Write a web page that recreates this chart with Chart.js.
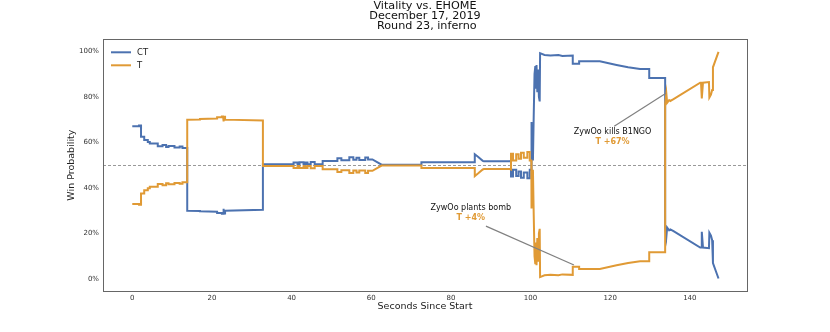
<!DOCTYPE html>
<html>
<head>
<meta charset="utf-8">
<script src="https://cdn.jsdelivr.net/npm/chart.js@4/dist/chart.umd.min.js"></script>
<style>
  html, body { margin: 0; padding: 0; background: #fff; }
</style>
</head>
<body>
<canvas id="winProb" width="830" height="332"></canvas>
<script>
// seconds since round start, and win probability (%) for each side
const secs = [
  0, 1.7, 1.7, 2.2, 2.2, 3.0, 3.0, 3.9, 3.9, 4.4, 4.4, 6.4, 6.4, 7.6, 7.6, 8.5, 8.5, 9.1, 9.1, 10.6,
  10.6, 11.9, 11.9, 12.6, 12.6, 13.8, 13.8, 17.0, 17.0, 21.3, 21.3, 22.5, 22.5, 22.8, 22.8, 23.0, 23.0, 23.3, 23.3, 32.8,
  32.8, 40.5, 40.5, 41.5, 41.5, 42.0, 42.0, 43.0, 43.0, 43.5, 43.5, 44.0, 44.0, 44.8, 44.8, 45.8, 45.8, 47.8, 47.8, 51.5,
  51.5, 52.5, 52.5, 54.5, 54.5, 55.5, 55.5, 56.3, 56.3, 57.0, 57.0, 58.5, 58.5, 59.2, 59.2, 60.3, 62.6, 72.6, 72.6, 86.0,
  86.0, 86.8, 88.0, 88.3, 94.8, 95.1, 95.1, 95.6, 95.6, 96.4, 96.4, 97.0, 97.0, 97.6, 97.6, 98.3, 98.3, 99.2, 99.2, 99.8,
  99.8, 100.2, 100.2, 100.3, 100.5, 100.6, 100.8, 101.0, 101.2, 101.4, 101.5, 101.7, 101.9, 102.1, 102.3, 102.4, 103.5, 105.0, 107.0, 108.0,
  110.6, 110.6, 112.2, 112.2, 117.4, 121.6, 124.5, 127.5, 129.8, 129.8, 133.8, 133.8, 134.1, 134.3, 134.8, 135.1, 135.9, 142.6, 142.8, 143.0,
  143.3, 144.8, 144.9, 145.3, 145.6, 145.8, 147.2
];
const ctProb = [
  67.1, 67.1, 67.4, 67.4, 62.5, 62.5, 61.0, 61.0, 60.2, 60.2, 59.5, 59.5, 58.3, 58.3, 58.8, 58.8, 58.0, 58.0, 58.4, 58.4,
  57.8, 57.8, 58.2, 58.2, 57.5, 57.5, 30.0, 29.9, 29.7, 29.5, 29.0, 29.0, 28.6, 28.6, 30.8, 30.8, 28.7, 28.7, 30.0, 30.4,
  50.4, 50.4, 51.2, 51.2, 50.4, 50.4, 51.3, 51.3, 50.5, 50.5, 51.2, 51.2, 50.4, 50.4, 51.4, 51.4, 50.4, 50.4, 51.8, 51.8,
  53.0, 53.0, 52.2, 52.2, 53.5, 53.5, 52.4, 52.4, 53.2, 53.2, 52.3, 52.3, 53.4, 53.4, 52.5, 52.5, 50.2, 50.2, 51.3, 51.3,
  54.8, 53.7, 51.9, 51.7, 51.7, 51.9, 45.0, 45.0, 48.0, 48.0, 45.2, 45.2, 47.2, 47.2, 44.5, 44.5, 46.8, 46.8, 44.2, 44.2,
  48.0, 48.0, 69.0, 58.0, 66.0, 52.0, 72.0, 90.0, 93.5, 84.0, 94.0, 82.0, 92.0, 80.0, 78.0, 99.2, 98.4, 98.2, 98.4, 98.0,
  98.2, 94.6, 94.6, 95.6, 95.6, 94.0, 93.0, 92.2, 92.2, 88.3, 88.3, 22.9, 18.5, 22.6, 21.4, 21.8, 21.0, 13.8, 13.8, 20.7,
  13.8, 13.5, 20.3, 19.0, 17.0, 7.0, 0.2
];
const tProb = [
  32.9, 32.9, 32.6, 32.6, 37.5, 37.5, 39.0, 39.0, 39.8, 39.8, 40.5, 40.5, 41.7, 41.7, 41.2, 41.2, 42.0, 42.0, 41.6, 41.6,
  42.2, 42.2, 41.8, 41.8, 42.5, 42.5, 70.0, 70.1, 70.3, 70.5, 71.0, 71.0, 71.4, 71.4, 69.2, 69.2, 71.3, 71.3, 70.0, 69.6,
  49.6, 49.6, 48.8, 48.8, 49.6, 49.6, 48.7, 48.7, 49.5, 49.5, 48.8, 48.8, 49.6, 49.6, 48.6, 48.6, 49.6, 49.6, 48.2, 48.2,
  47.0, 47.0, 47.8, 47.8, 46.5, 46.5, 47.6, 47.6, 46.8, 46.8, 47.7, 47.7, 46.6, 46.6, 47.5, 47.5, 49.8, 49.8, 48.7, 48.7,
  45.2, 46.3, 48.1, 48.3, 48.3, 48.1, 55.0, 55.0, 52.0, 52.0, 54.8, 54.8, 52.8, 52.8, 55.5, 55.5, 53.2, 53.2, 55.8, 55.8,
  52.0, 52.0, 31.0, 42.0, 34.0, 48.0, 28.0, 10.0, 6.5, 16.0, 6.0, 18.0, 8.0, 20.0, 22.0, 0.8, 1.6, 1.8, 1.6, 2.0,
  1.8, 5.4, 5.4, 4.4, 4.4, 6.0, 7.0, 7.8, 7.8, 11.7, 11.7, 77.1, 81.5, 77.4, 78.6, 78.2, 79.0, 86.2, 86.2, 79.3,
  86.2, 86.5, 79.7, 81.0, 83.0, 93.0, 99.8
];

const xTicks = [0, 20, 40, 60, 80, 100, 120, 140];
const yTicks = [0, 20, 40, 60, 80, 100];
const evenLine = 50;

// annotations: label, change, label centre, line start, line end (all in data units)
const noteText = ['ZywOo plants bomb', 'ZywOo kills B1NGO'];
const noteDelta = ['T +4%', 'T +67%'];
const noteLabelAt = [[85.0, 31.1], [120.6, 64.6]];
const noteFrom = [[88.8, 23.2], [121.0, 67.1]];
const noteTo = [[110.9, 6.1], [134.0, 81.6]];

const CT_COLOR = '#4c72b0';
const T_COLOR = '#e09a35';
const FONT = '"DejaVu Sans", sans-serif';

const toPts = (ys) => secs.map((s, i) => ({ x: s, y: ys[i] }));

// dashed 50% line, frame, legend and the two call-outs
const extras = {
  id: 'extras',
  beforeDatasetsDraw(chart) {
    const { ctx, chartArea: a, scales: { y } } = chart;
    const py = Math.round(y.getPixelForValue(evenLine)) + 0.5;
    ctx.save();
    ctx.strokeStyle = '#999';
    ctx.lineWidth = 1;
    ctx.setLineDash([3, 2]);
    ctx.beginPath();
    ctx.moveTo(a.left, py);
    ctx.lineTo(a.right, py);
    ctx.stroke();
    ctx.restore();
  },
  afterDatasetsDraw(chart) {
    const { ctx, chartArea: a, scales: { x, y } } = chart;
    ctx.save();

    // call-outs
    for (let i = 0; i < noteText.length; i++) {
      ctx.strokeStyle = '#808080';
      ctx.lineWidth = 1.2;
      ctx.beginPath();
      ctx.moveTo(x.getPixelForValue(noteFrom[i][0]), y.getPixelForValue(noteFrom[i][1]));
      ctx.lineTo(x.getPixelForValue(noteTo[i][0]), y.getPixelForValue(noteTo[i][1]));
      ctx.stroke();

      const cx = x.getPixelForValue(noteLabelAt[i][0]);
      const cy = y.getPixelForValue(noteLabelAt[i][1]);
      ctx.textAlign = 'center';
      ctx.textBaseline = 'middle';
      ctx.font = '8px ' + FONT;
      ctx.fillStyle = '#111';
      ctx.fillText(noteText[i], cx, cy);
      ctx.font = 'bold 8px ' + FONT;
      ctx.fillStyle = T_COLOR;
      ctx.fillText(noteDelta[i], cx, cy + 10);
    }

    // legend, top left inside the axes
    chart.data.datasets.forEach((ds, i) => {
      const ly = a.top + 13 + i * 13;
      ctx.strokeStyle = ds.borderColor;
      ctx.lineWidth = 2;
      ctx.beginPath();
      ctx.moveTo(a.left + 8, ly);
      ctx.lineTo(a.left + 28, ly);
      ctx.stroke();
      ctx.font = '8.5px ' + FONT;
      ctx.fillStyle = '#222';
      ctx.textAlign = 'left';
      ctx.textBaseline = 'middle';
      ctx.fillText(ds.label, a.left + 34, ly);
    });

    // frame
    ctx.strokeStyle = '#666';
    ctx.lineWidth = 1;
    ctx.strokeRect(Math.round(a.left) + 0.5, Math.round(a.top) + 0.5,
      Math.round(a.right - a.left), Math.round(a.bottom - a.top));
    ctx.restore();
  }
};

new Chart(document.getElementById('winProb'), {
  type: 'line',
  data: {
    datasets: [
      { label: 'CT', data: toPts(ctProb), borderColor: CT_COLOR, borderWidth: 2, pointRadius: 0, tension: 0, order: 2 },
      { label: 'T', data: toPts(tProb), borderColor: T_COLOR, borderWidth: 2, pointRadius: 0, tension: 0, order: 1 }
    ]
  },
  options: {
    responsive: false,
    animation: false,
    devicePixelRatio: 1,
    layout: { padding: { left: 0, right: 83, top: 0, bottom: 0 } },
    plugins: {
      legend: { display: false },
      tooltip: { enabled: false },
      title: {
        display: true,
        fullSize: false,
        text: ['Vitality vs. EHOME', 'December 17, 2019', ' Round 23, inferno'],
        color: '#111',
        font: { family: FONT, size: 11.2, weight: 'normal', lineHeight: '10px' },
        padding: { top: 1.5, bottom: 7.8 }
      }
    },
    scales: {
      x: {
        type: 'linear',
        min: -7.35,
        max: 154.35,
        grid: { display: false, drawTicks: false },
        border: { display: false },
        afterBuildTicks: (s) => { s.ticks = xTicks.map((v) => ({ value: v })); },
        afterFit: (s) => { s.height = 41; },
        ticks: { color: '#333', font: { family: FONT, size: 7 }, padding: 3, maxRotation: 0 },
        title: {
          display: true,
          text: 'Seconds Since Start',
          color: '#222',
          font: { family: FONT, size: 9.5, lineHeight: 1.2 },
          padding: { top: 0, bottom: 19.3 }
        }
      },
      y: {
        min: -5.3,
        max: 105.3,
        grid: { display: false, drawTicks: false },
        border: { display: false },
        afterBuildTicks: (s) => { s.ticks = yTicks.map((v) => ({ value: v })); },
        afterFit: (s) => { s.width = 103; },
        ticks: { color: '#333', font: { family: FONT, size: 7 }, padding: 4, callback: (v) => v + '%' },
        title: {
          display: true,
          text: 'Win Probability',
          color: '#222',
          font: { family: FONT, size: 9.5, lineHeight: 1.2 },
          padding: { top: 66.3, bottom: 0 }
        }
      }
    }
  },
  plugins: [extras]
});
</script>
</body>
</html>
